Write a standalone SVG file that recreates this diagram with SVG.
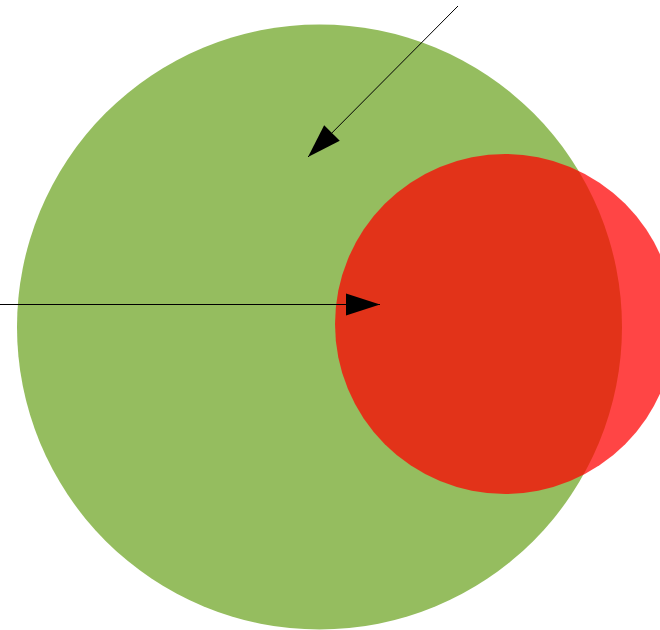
<svg xmlns="http://www.w3.org/2000/svg" width="660" height="630" viewBox="0 0 660 630">
<defs>
<marker id="ah" markerUnits="userSpaceOnUse" markerWidth="34" markerHeight="22" refX="34" refY="11" orient="auto" overflow="visible">
<path d="M0,0 L34,11 L0,22 z" fill="#000"/>
</marker>
<style>
.conn{stroke:#000;stroke-width:1;fill:none;marker-end:url(#ah)}
</style>
</defs>
<rect width="660" height="630" fill="#fff"/>
<g id="green-circle"><circle cx="319.5" cy="327" r="302.5" fill="#95BD5F"/></g>
<g id="red-circle"><circle cx="505" cy="324" r="170" fill="#FF0000" fill-opacity="0.73"/></g>
<g id="connectors">
<line class="conn" x1="458" y1="6" x2="308" y2="157"/>
<line class="conn" x1="0" y1="304.5" x2="380" y2="304.5"/>
</g>
</svg>
